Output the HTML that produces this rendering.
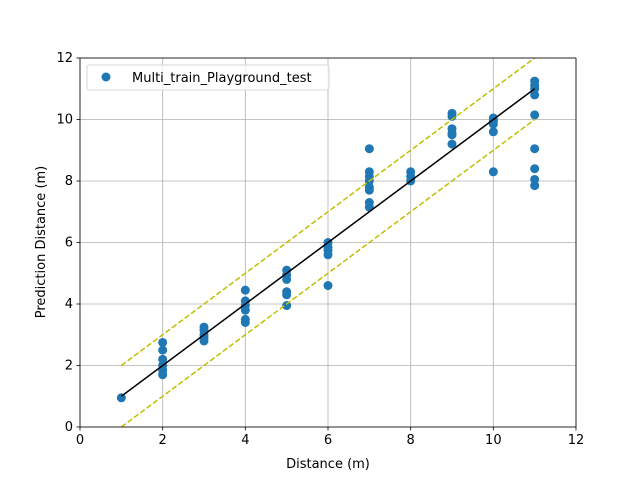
<!DOCTYPE html>
<html><head><meta charset="utf-8"><style>
body{margin:0;background:#fff;font-family:"DejaVu Sans","Liberation Sans",sans-serif;}
svg text{font-family:"DejaVu Sans","Liberation Sans",sans-serif;font-size:13px;fill:#000}
</style></head><body>
<svg id="chart" width="640" height="480"></svg>
<script>
const xCats = [1,2,3,4,5,6,7,8,9,10,11];
const yVals = [
 [0.95],
 [2.75,2.5,2.2,2.0,1.85,1.7],
 [3.25,3.15,3.0,2.9,2.8],
 [4.45,4.1,3.95,3.8,3.5,3.4],
 [5.1,4.95,4.8,4.4,4.3,3.95],
 [6.0,5.85,5.75,5.6,4.6],
 [9.05,8.3,8.15,8.0,7.8,7.7,7.3,7.15],
 [8.3,8.15,8.0],
 [10.2,10.1,9.7,9.55,9.5,9.2],
 [10.05,9.95,9.85,9.6,8.3],
 [11.25,11.1,11.0,10.8,10.15,9.05,8.4,8.05,7.85]
];
const xTicks = [0,2,4,6,8,10,12];
const yTicks = [0,2,4,6,8,10,12];
const NS="http://www.w3.org/2000/svg";
const svg=document.getElementById('chart');
const L=80,R=576,T=58,B=427;
const sx=v=>L+(v/12)*(R-L), sy=v=>B-(v/12)*(B-T);
function mk(tag,attrs,parent){const e=document.createElementNS(NS,tag);for(const k in attrs)e.setAttribute(k,attrs[k]);(parent||svg).appendChild(e);return e;}
// grid
xTicks.forEach(t=>{const g=mk('line',{x1:sx(t),x2:sx(t),y1:T,y2:B,stroke:'#b0b0b0','stroke-width':0.8});

});
yTicks.forEach(t=>{const g=mk('line',{x1:L,x2:R,y1:sy(t),y2:sy(t),stroke:'#b0b0b0','stroke-width':0.8});

});
// points
xCats.forEach((x,i)=>yVals[i].forEach(y=>{const c=mk('circle',{cx:sx(x),cy:sy(y),r:4.5,fill:'#1f77b4'});

}));
// lines
const x0=xCats[0],x1=xCats[xCats.length-1];
[[1,'#bfbf00','5.5,2.4'],[-1,'#bfbf00','5.5,2.4']].forEach(([o,c,d])=>{const l=mk('line',{x1:sx(x0),y1:sy(x0+o),x2:sx(x1),y2:sy(x1+o),stroke:c,'stroke-width':1.5,'stroke-dasharray':d});

});
const id=mk('line',{x1:sx(x0),y1:sy(x0),x2:sx(x1),y2:sy(x1),stroke:'#000','stroke-width':1.5});


// frame
const fr=mk('rect',{x:L,y:T,width:R-L,height:B-T,fill:'none',stroke:'#000','stroke-width':0.8});


// ticks
xTicks.forEach(t=>{mk('line',{x1:sx(t),x2:sx(t),y1:B,y2:B+3.5,stroke:'#000','stroke-width':0.8});
const tx=mk('text',{x:sx(t),y:B+17,'text-anchor':'middle','font-size':10});tx.textContent=t;

});
yTicks.forEach(t=>{mk('line',{x1:L-3.5,x2:L,y1:sy(t),y2:sy(t),stroke:'#000','stroke-width':0.8});
const tx=mk('text',{x:L-7,y:sy(t)+4,'text-anchor':'end','font-size':10});tx.textContent=t;

});
</script>
<svg width="640" height="480" style="position:absolute;left:0;top:0">
<text x="328" y="468" text-anchor="middle" style="font-size:13px">Distance (m)</text>
<text transform="translate(45,242) rotate(-90)" text-anchor="middle" style="font-size:13px">Prediction Distance (m)</text>
<g>
<rect x="87" y="65" width="242" height="25" rx="2" fill="#fff" fill-opacity="0.8" stroke="#ccc" stroke-width="0.8"/>
<circle cx="106" cy="77" r="4.5" fill="#1f77b4"/>
<text x="132" y="82" style="font-size:13px">Multi_train_Playground_test</text>
</g>
</svg>
</body></html>
